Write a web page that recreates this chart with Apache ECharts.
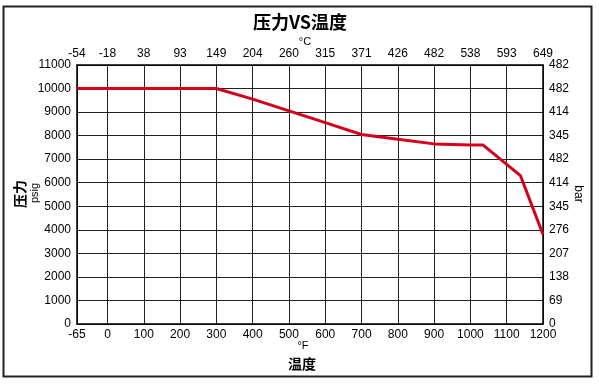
<!DOCTYPE html>
<html><head><meta charset="utf-8">
<script src="https://cdn.jsdelivr.net/npm/echarts@6/dist/echarts.min.js"></script>
<style>html,body{margin:0;padding:0;background:#fff}#c{width:599px;height:384px}</style>
</head><body><div id="c"></div>
<script>
// ---- data ----
const tempF = [-65, 0, 100, 200, 300, 400, 500, 600, 700, 800, 900, 1000, 1035, 1138, 1200];
const pressurePsig = [10000, 10000, 10000, 10000, 10000, 9550, 9050, 8550, 8050, 7850, 7650, 7600, 7600, 6300, 3800];
const xTicksF = [-65, 0, 100, 200, 300, 400, 500, 600, 700, 800, 900, 1000, 1100, 1200];
const xTickLabelsC = ['-54', '-18', '38', '93', '149', '204', '260', '315', '371', '426', '482', '538', '593', '649'];
const yTicksPsig = [0, 1000, 2000, 3000, 4000, 5000, 6000, 7000, 8000, 9000, 10000, 11000];
const yTickLabelsBar = ['0', '69', '138', '207', '276', '345', '414', '482', '345', '414', '482', '482'];

const chart = echarts.init(document.getElementById('c'), null, {renderer: 'canvas'});
const FONT = 'Liberation Sans';
const CJK = 'Noto Sans CJK SC';
const labelStyle = {color: '#000', fontFamily: FONT, fontSize: 12};
const axisLine = {show: true, onZero: false, lineStyle: {color: '#000', width: 1.5}};
const splitLine = {show: true, lineStyle: {color: '#222', width: 1}};
const cLabel = v => { const i = xTicksF.indexOf(v); return i >= 0 ? xTickLabelsC[i] : ''; };
const barLabel = v => { const i = yTicksPsig.indexOf(v); return i >= 0 ? yTickLabelsBar[i] : ''; };

// The reference's first x interval (-65..0) is drawn wider than its true scale,
// so it is reproduced as its own small grid next to the 0..1200 grid.
const pts = tempF.map((t, i) => [t, pressurePsig[i]]);
const segA = pts.filter(p => p[0] <= 0);
const segB = pts.filter(p => p[0] >= 0);
const lineStyle = {color: '#d7001b', width: 3};

chart.setOption({
  animation: false,
  grid: [
    {left: 77, top: 65, width: 30.5, height: 259},
    {left: 107.5, top: 65, width: 435.5, height: 259}
  ],
  xAxis: [
    {type: 'value', gridIndex: 0, position: 'bottom', min: -65, max: 0, interval: 65,
     axisLine, splitLine, axisTick: {show: false},
     axisLabel: Object.assign({margin: 5, formatter: v => String(v)}, labelStyle)},
    {type: 'value', gridIndex: 0, position: 'top', min: -65, max: 0, interval: 65,
     axisLine, splitLine: {show: false}, axisTick: {show: false},
     axisLabel: Object.assign({margin: 5, formatter: cLabel}, labelStyle)},
    {type: 'value', gridIndex: 1, position: 'bottom', min: 0, max: 1200, interval: 100,
     axisLine, splitLine, axisTick: {show: false},
     axisLabel: Object.assign({margin: 5, showMinLabel: false, formatter: v => v === 0 ? '' : String(v)}, labelStyle)},
    {type: 'value', gridIndex: 1, position: 'top', min: 0, max: 1200, interval: 100,
     axisLine, splitLine: {show: false}, axisTick: {show: false},
     axisLabel: Object.assign({margin: 5, formatter: v => v === 0 ? '' : cLabel(v)}, labelStyle)}
  ],
  yAxis: [
    {type: 'value', gridIndex: 0, position: 'left', min: 0, max: 11000, interval: 1000,
     axisLine, splitLine, axisTick: {show: false},
     axisLabel: Object.assign({margin: 6, formatter: v => String(v)}, labelStyle)},
    {type: 'value', gridIndex: 1, position: 'right', min: 0, max: 11000, interval: 1000,
     axisLine, splitLine, axisTick: {show: false},
     axisLabel: Object.assign({margin: 6, formatter: barLabel}, labelStyle)}
  ],
  series: [
    {type: 'line', xAxisIndex: 0, yAxisIndex: 0, data: segA, showSymbol: false, lineStyle, z: 5},
    {type: 'line', xAxisIndex: 2, yAxisIndex: 1, data: segB, showSymbol: false, lineStyle, z: 5}
  ],
  graphic: [
    {type: 'rect', shape: {x: 3.5, y: 6.5, width: 588, height: 370}, style: {fill: 'none', stroke: '#222', lineWidth: 2}},
    {type: 'text', x: 300, y: 22, style: {text: '压力VS温度', fontFamily: CJK, fontWeight: 'bold', fontSize: 18, fill: '#000', align: 'center', verticalAlign: 'middle'}},
    {type: 'text', x: 305, y: 42, style: {text: '°C', fontFamily: FONT, fontSize: 11, fill: '#000', align: 'center', verticalAlign: 'middle'}},
    {type: 'text', x: 303, y: 346, style: {text: '°F', fontFamily: FONT, fontSize: 11, fill: '#000', align: 'center', verticalAlign: 'middle'}},
    {type: 'text', x: 302, y: 364, style: {text: '温度', fontFamily: CJK, fontWeight: 'bold', fontSize: 14, fill: '#000', align: 'center', verticalAlign: 'middle'}},
    {type: 'text', x: 20, y: 194, rotation: Math.PI / 2, style: {text: '压力', fontFamily: CJK, fontWeight: 'bold', fontSize: 14, fill: '#000', align: 'center', verticalAlign: 'middle'}},
    {type: 'text', x: 35, y: 193, rotation: Math.PI / 2, style: {text: 'psig', fontFamily: FONT, fontSize: 11, fill: '#000', align: 'center', verticalAlign: 'middle'}},
    {type: 'text', x: 578, y: 194, rotation: -Math.PI / 2, style: {text: 'bar', fontFamily: FONT, fontSize: 12, fill: '#000', align: 'center', verticalAlign: 'middle'}}
  ]
});
</script>
</body></html>
